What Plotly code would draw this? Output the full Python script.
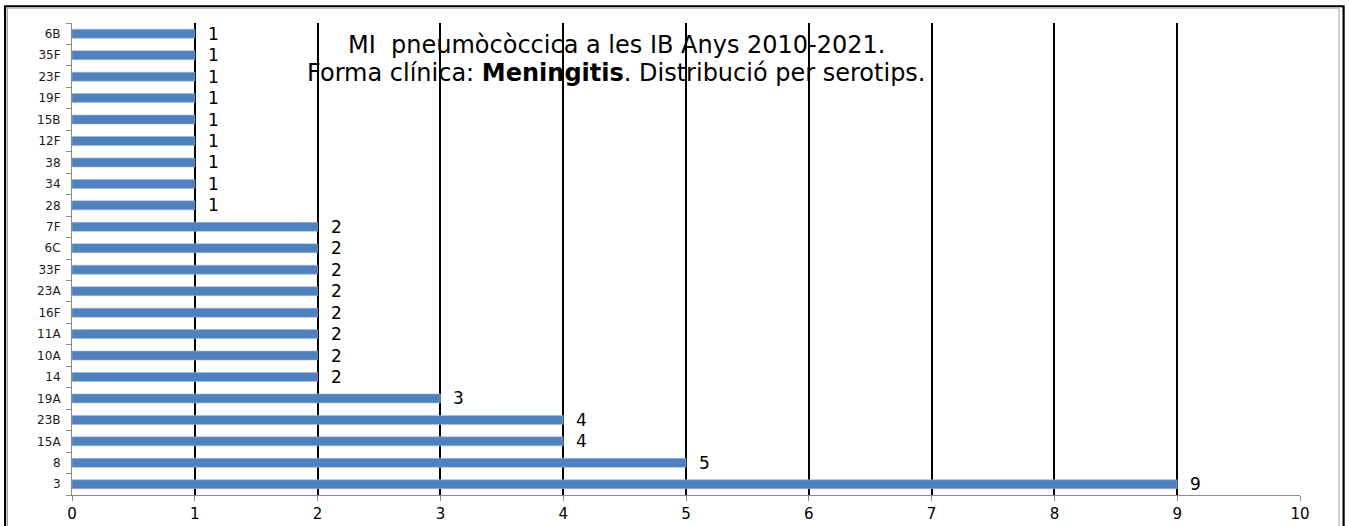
import plotly.graph_objects as go

# Serotypes, bottom to top, and case counts
serotypes = ["3", "8", "15A", "23B", "19A", "14", "10A", "11A", "16F", "23A",
             "33F", "6C", "7F", "28", "34", "38", "12F", "15B", "19F", "23F",
             "35F", "6B"]
cases = [9, 5, 4, 4, 3, 2, 2, 2, 2, 2, 2, 2, 2, 1, 1, 1, 1, 1, 1, 1, 1, 1]
x_ticks = list(range(0, 11))

title_line1 = "MI  pneumòcòccica a les IB Anys 2010-2021."
title_line2 = "Forma clínica: <b>Meningitis</b>. Distribució per serotips."

FONT = "DejaVu Sans"
BAR = "#4F81BD"

fig = go.Figure(go.Bar(
    x=cases,
    y=serotypes,
    orientation="h",
    marker=dict(color=BAR, line=dict(color="#9DB8DA", width=0.6)),
    hoverinfo="skip",
))

# value labels to the right of each bar (y given as category index)
annotations = [
    dict(x=v, y=i, xref="x", yref="y", text=str(v), showarrow=False,
         xanchor="left", yanchor="middle", xshift=11, yshift=0,
         font=dict(family=FONT, size=17, color="#000000"))
    for i, v in enumerate(cases)
]

# two-line chart title
for text, ypos in ((title_line1, 0.9534), (title_line2, 0.8941)):
    annotations.append(dict(
        x=0.443, y=ypos, xref="paper", yref="paper",
        text=text, showarrow=False,
        xanchor="center", yanchor="middle",
        font=dict(family=FONT, size=24, color="#000000"),
    ))

# outer frame of the chart
shapes = [
    dict(type="rect", xref="paper", yref="paper",
         x0=-0.0545, x1=1.0355, y0=-0.08, y1=1.0355,
         line=dict(color="#000000", width=2.2)),
    dict(type="rect", xref="paper", yref="paper",
         x0=-0.0525, x1=1.0318, y0=-0.08, y1=1.0315,
         line=dict(color="#A0A0A0", width=1)),
]

fig.update_layout(
    width=1349, height=526,
    margin=dict(l=72, r=49, t=23, b=31),
    paper_bgcolor="white", plot_bgcolor="white",
    showlegend=False,
    bargap=0.58,
    annotations=annotations,
    shapes=shapes,
    xaxis=dict(
        range=[0, 10], tickvals=x_ticks, ticktext=[str(t) for t in x_ticks],
        showgrid=True, gridcolor="#000000", gridwidth=2.4,
        zeroline=False, showline=True, linecolor="#8C8C8C", linewidth=1,
        ticks="outside", ticklen=5, tickcolor="#8C8C8C",
        tickfont=dict(family=FONT, size=15, color="#000000"),
        automargin=False, fixedrange=True,
    ),
    yaxis=dict(
        type="category",
        categoryorder="array", categoryarray=serotypes,
        range=[-0.5, len(serotypes) - 0.5],
        showgrid=False, zeroline=False,
        showline=True, linecolor="#8C8C8C", linewidth=1,
        ticks="outside", ticklen=5, tickcolor="#8C8C8C",
        tickson="boundaries", ticklabelstandoff=8,
        tickfont=dict(family=FONT, size=12, color="#1a1a1a"),
        automargin=False, fixedrange=True,
    ),
)

fig.write_html("out.html")
